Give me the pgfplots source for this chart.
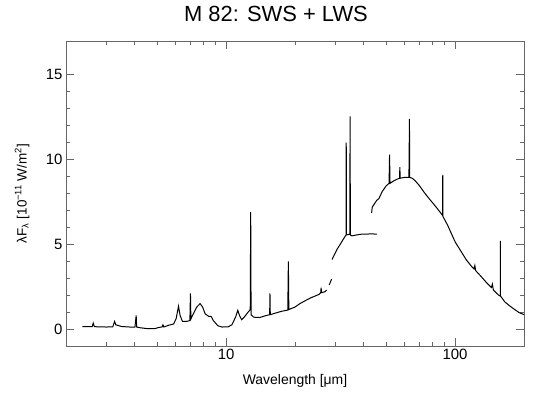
\documentclass[border=0pt]{standalone}
\usepackage{fontspec}
\setmainfont{Liberation Sans}
\usepackage{pgfplots}
\pgfplotsset{compat=1.18}
\begin{document}
\begin{tikzpicture}
\useasboundingbox (-66bp,-48bp) rectangle (486bp,346bp);
\begin{semilogxaxis}[
  scale only axis, width=458bp, height=305bp,
  xmin=2, xmax=200, ymin=-1, ymax=17,
  xtick={10,100}, xticklabels={10,100},
  minor xtick={3,4,5,6,7,8,9,20,30,40,50,60,70,80,90},
  ytick={0,5,10,15}, minor y tick num=4,
  tick align=inside, major tick length=8bp, minor tick length=4bp,
  axis line style={black!60, line width=0.9bp},
  tick style={black!60, line width=0.9bp},
  tick label style={font=\fontsize{15}{17}\selectfont},
  /pgf/number format/assume math mode=true,
  title={M 82: SWS + LWS},
  title style={font=\fontsize{22}{24}\selectfont, at={(axis description cs:0.4585,1.07)}, anchor=center, inner sep=0pt},
  xlabel={Wavelength [μm]},
  xlabel style={font=\fontsize{14}{16}\selectfont, at={(axis description cs:0.5,-0.115)}, anchor=center},
  ylabel={λF\textsubscript{λ} [10\textsuperscript{−11} W/m\textsuperscript{2}]},
  ylabel style={font=\fontsize{13.5}{16}\selectfont, at={(axis description cs:-0.096,0.5)}, anchor=center},
]
\addplot[black, line width=1bp, unbounded coords=jump] coordinates {
(2.36,0.15)(2.5,0.15)(2.6,0.14)(2.63,0.35)(2.66,0.14)(2.8,0.13)(3.0,0.12)(3.2,0.13)(3.26,0.45)(3.3,0.25)(3.4,0.2)(3.5,0.15)(3.8,0.12)(4.0,0.12)(4.05,0.8)(4.07,0.12)(4.2,0.08)(4.5,0.03)(4.9,0.03)(5.1,0.1)(5.25,0.12)(5.3,0.25)(5.35,0.12)(5.6,0.22)(5.9,0.3)(6.05,0.6)(6.2,1.35)(6.3,0.8)(6.45,0.45)(6.7,0.45)(6.95,0.5)(6.99,2.1)(7.02,0.6)(7.2,0.9)(7.45,1.3)(7.7,1.5)(7.9,1.3)(8.1,0.9)(8.4,0.75)(8.6,0.75)(8.8,0.5)(9.2,0.2)(9.6,0.12)(10.2,0.13)(10.6,0.25)(11.0,0.7)(11.25,1.1)(11.45,0.8)(11.7,0.55)(12.0,0.7)(12.4,0.95)(12.75,1.15)(12.81,6.9)(12.86,0.85)(13.2,0.7)(14,0.68)(15,0.8)(15.5,0.85)(15.55,2.1)(15.6,0.85)(16.5,0.95)(17.5,1.05)(18.6,1.12)(18.71,4.0)(18.8,1.15)(20,1.3)(21,1.5)(22,1.65)(23.5,1.85)(24.5,1.95)(25.5,2.05)(25.9,2.15)(26.0,2.45)(26.1,2.15)(27,2.2)(27.5,2.3)
(27.8,nan)
(28.2,2.6)(28.9,2.95)
(28.95,nan)
(29.0,4.1)(29.5,4.3)(30.5,4.7)(31.5,5.0)(32.5,5.3)(33.2,5.5)(33.45,5.55)(33.48,11.0)(33.52,5.55)(34.7,5.6)(34.8,12.55)(34.9,5.55)(35.5,5.5)(37,5.55)(39,5.6)(41,5.6)(43,5.62)(45.5,5.6)
(45.6,nan)
(43.2,6.86)(43.5,7.2)(44.5,7.4)(45.5,7.6)(46.5,7.7)(48,8.1)(50,8.45)(51.5,8.6)(51.75,10.3)(52,8.6)(54,8.75)(56,8.85)(57.2,8.9)(57.4,9.55)(57.6,8.9)(60,8.95)(62.9,8.95)(63.0,11.0)(63.1,8.95)(63.2,12.4)(63.4,8.95)(65,8.9)(67,8.75)(70,8.45)(73,8.1)(77,7.7)(81.5,7.3)(86,6.9)(88.2,6.7)(88.35,9.1)(88.5,6.65)(93,6.1)(100,5.15)(106,4.6)(112,4.08)(118,3.7)(121,3.55)(122,3.75)(123,3.45)(130,3.1)(138,2.7)(144,2.45)(145.5,2.65)(147,2.3)(155,2.0)(157.6,1.95)(157.7,5.2)(157.9,1.95)(165,1.6)(172,1.4)(180,1.2)(190,0.98)(200,0.85)
};
\end{semilogxaxis}
\end{tikzpicture}
\end{document}
